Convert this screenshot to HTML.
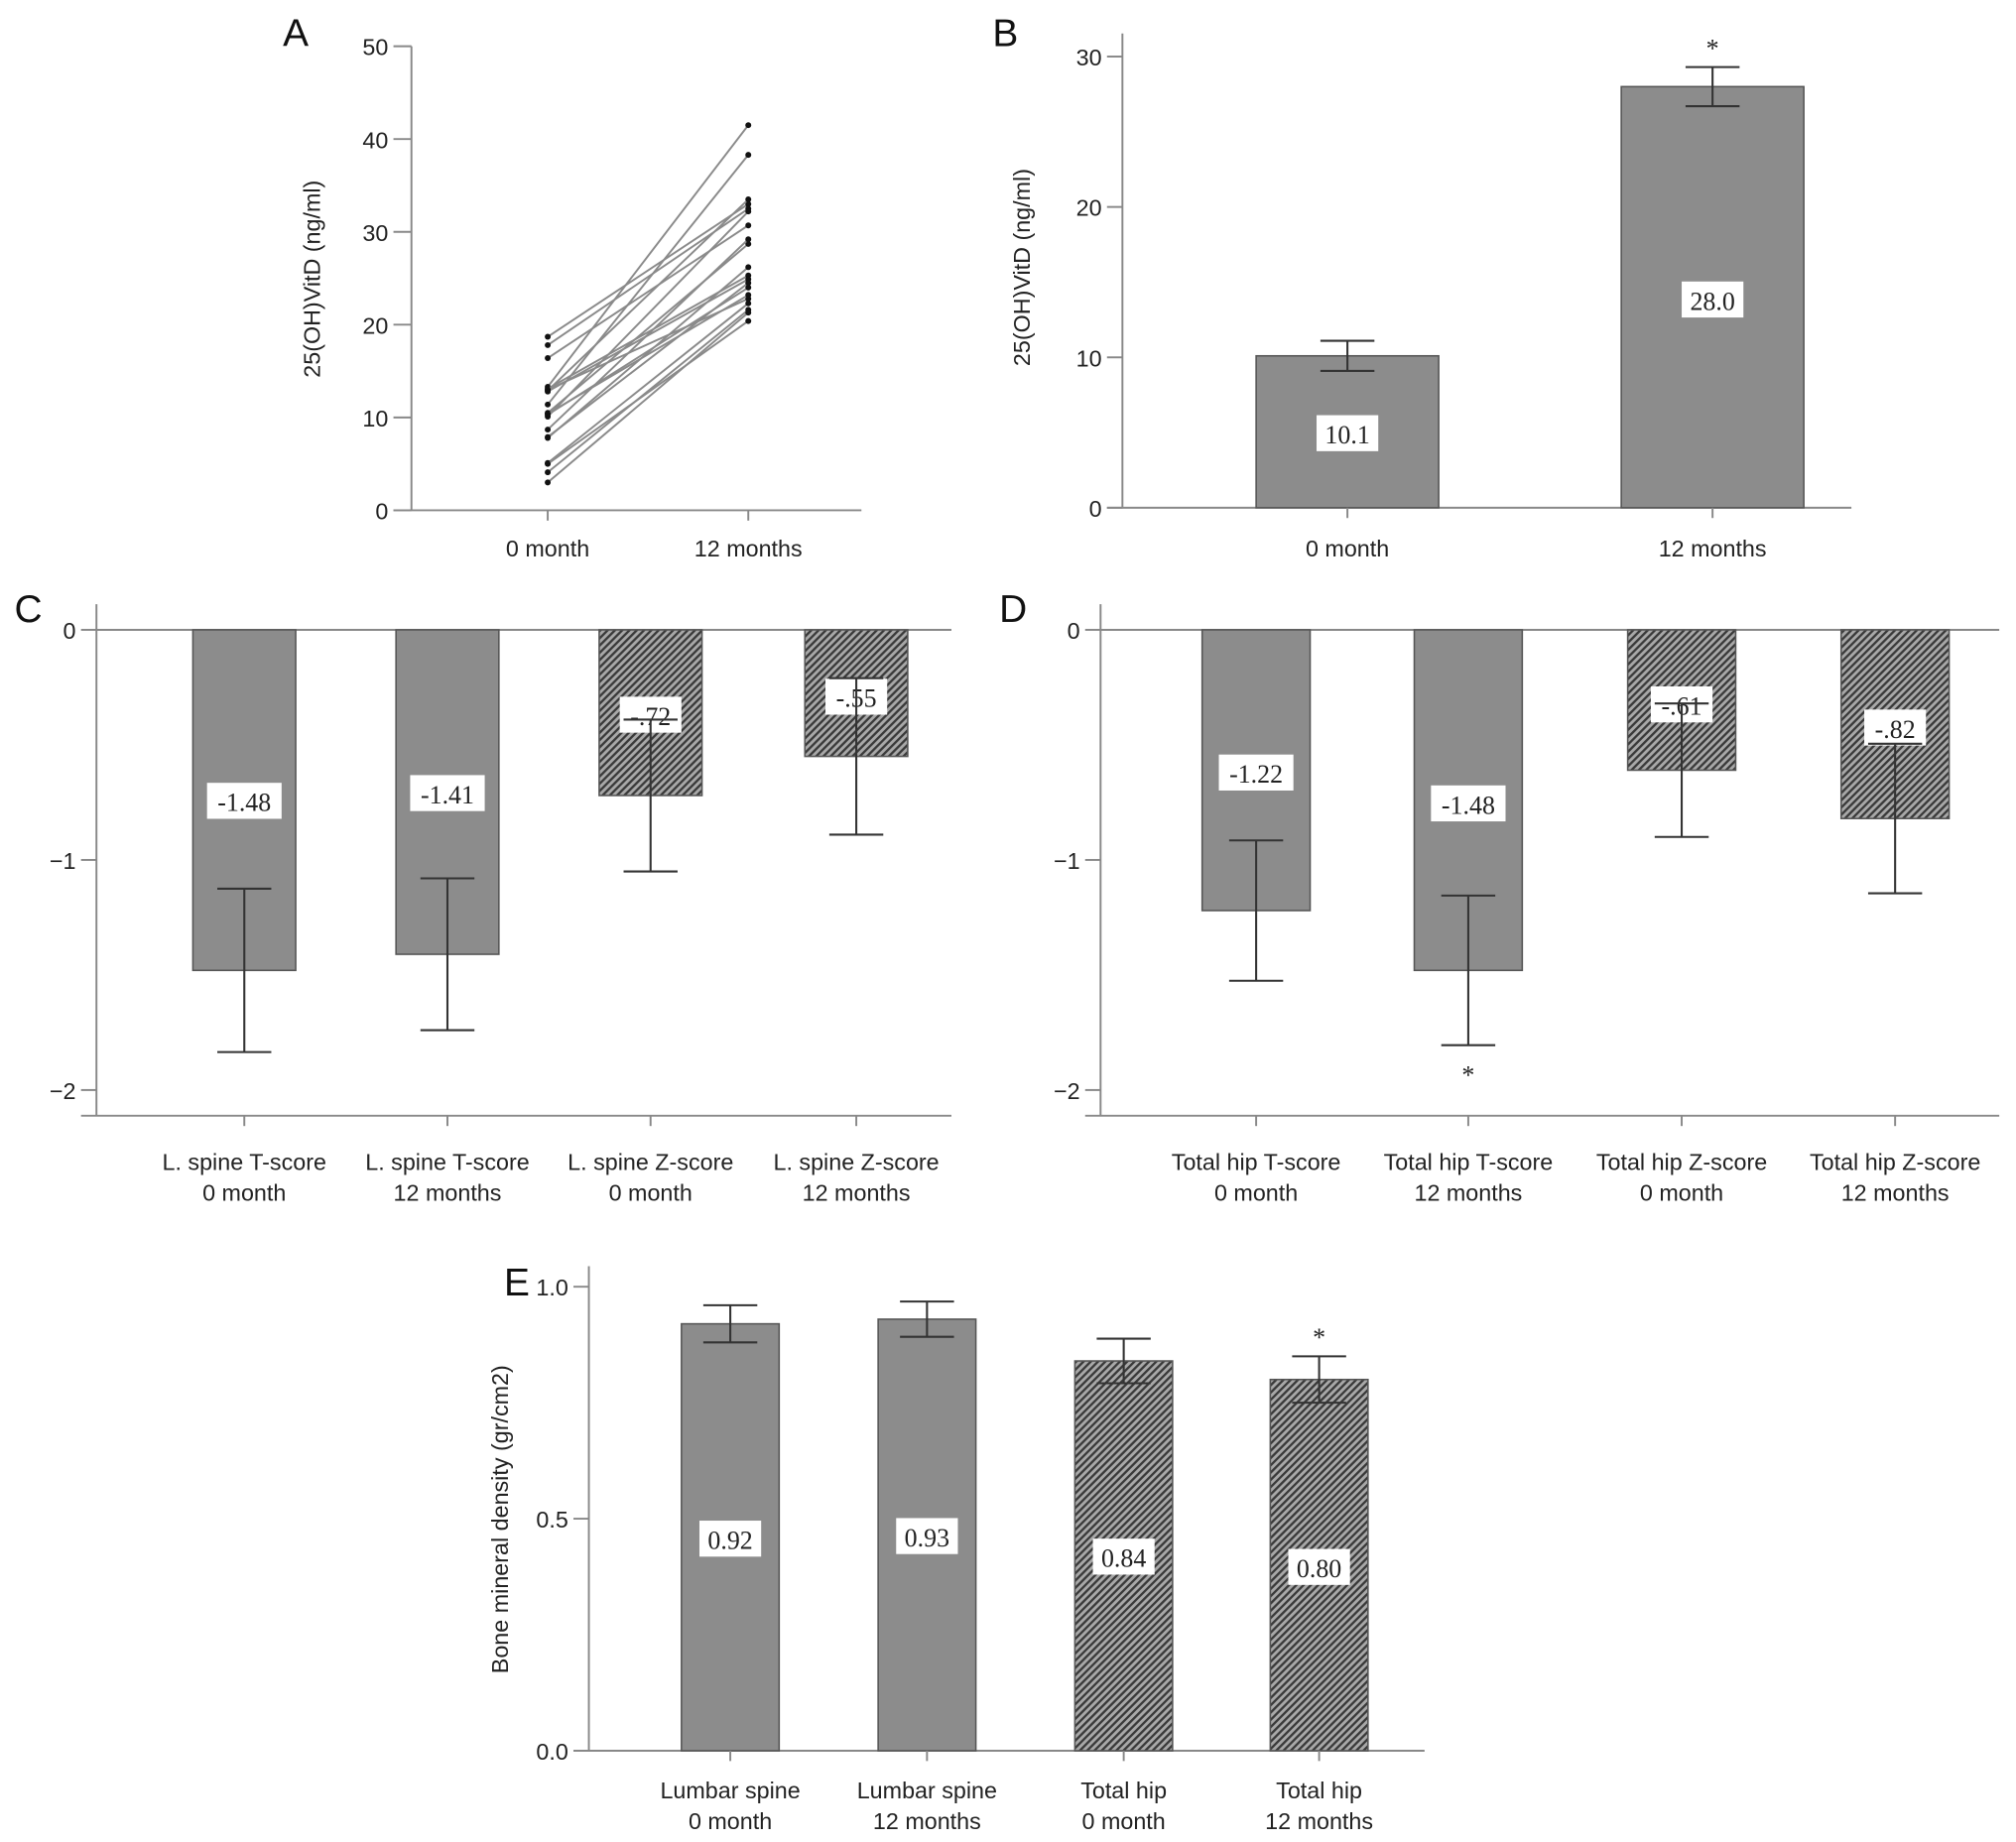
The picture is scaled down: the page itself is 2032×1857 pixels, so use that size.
<!DOCTYPE html>
<html><head><meta charset="utf-8"><style>
html,body{margin:0;padding:0;background:#fff}
svg{display:block}
.t{font-family:"Liberation Sans",sans-serif;font-size:18px;fill:#222}
.v{font-family:"Liberation Serif",serif;font-size:20px;fill:#222}
.p{font-family:"Liberation Sans",sans-serif;font-size:30px;fill:#111}
</style></head><body>
<svg id="fig" width="2032" height="1857" viewBox="0 0 1568 1433" xmlns="http://www.w3.org/2000/svg">
<defs>
<pattern id="hatch" patternUnits="userSpaceOnUse" width="4" height="4" patternTransform="rotate(45)">
<rect width="4" height="4" fill="#a8a8a8"/><rect width="1.8" height="4" fill="#3a3a3a"/>
</pattern>
</defs>
</svg>
<script>
// Panel A data
const aBase=[18.7,17.8,16.4,13.3,13.1,12.9,12.8,11.4,10.5,10.3,10.1,8.7,7.8,5.1,4.1,3.0,13.0,10.4,5.0,7.9];
const aFollow=[33.0,32.5,30.7,41.5,25.3,33.5,24.9,38.3,28.7,24.0,32.2,29.2,26.2,22.3,21.6,21.3,22.8,23.2,20.4,24.5];
const aTicks=[0,10,20,30,40,50];
// Panel B
const bCats=["0 month","12 months"];
const bVals=[10.1,28.0];
const bErr=[1.0,1.3];
const bTicks=[0,10,20,30];
// Panel C
const cCats=[["L. spine T-score","0 month"],["L. spine T-score","12 months"],["L. spine Z-score","0 month"],["L. spine Z-score","12 months"]];
const cVals=[-1.48,-1.41,-0.72,-0.55];
const cErr=[0.355,0.33,0.33,0.34];
const cLabels=["-1.48","-1.41","-.72","-.55"];
// Panel D
const dCats=[["Total hip T-score","0 month"],["Total hip T-score","12 months"],["Total hip Z-score","0 month"],["Total hip Z-score","12 months"]];
const dVals=[-1.22,-1.48,-0.61,-0.82];
const dErr=[0.305,0.325,0.29,0.325];
const dLabels=["-1.22","-1.48","-.61","-.82"];
const cdTicks=[0,-1,-2];
// Panel E
const eCats=[["Lumbar spine","0 month"],["Lumbar spine","12 months"],["Total hip","0 month"],["Total hip","12 months"]];
const eVals=[0.92,0.93,0.84,0.80];
const eErr=[0.04,0.038,0.048,0.05];
const eLabels=["0.92","0.93","0.84","0.80"];
const eTicks=["0.0","0.5","1.0"];

const svg=document.getElementById('fig');
const NS="http://www.w3.org/2000/svg";
function mk(tag,attrs,parent){const e=document.createElementNS(NS,tag);for(const k in attrs)e.setAttribute(k,attrs[k]);(parent||svg).appendChild(e);return e;}
function txt(x,y,s,cls,anchor,parent){const e=mk('text',{x:x,y:y,class:cls,'text-anchor':anchor||'middle'},parent);e.textContent=s;return e;}
const AX='#888';

// ---------- Panel A
(function(){
 const g=mk('g',{});
 
 
 const y=v=>397-v*7.22, x0=426, x1=582;
 const pl=txt(230,36,'A','p','middle',g);
 
 
 const ax=mk('line',{x1:320,y1:y(50),x2:320,y2:397,stroke:AX,'stroke-width':1.5},g);
 
 
 const xa=mk('line',{x1:306,y1:397,x2:670,y2:397,stroke:AX,'stroke-width':1.5},g);
 
 
 aTicks.forEach(t=>{mk('line',{x1:306,y1:y(t),x2:320,y2:y(t),stroke:AX,'stroke-width':1.5},g);
  const l=txt(302,y(t)+7,String(t),'t','end',g);
  
  });
 [x0,x1].forEach((xx,i)=>{mk('line',{x1:xx,y1:397,x2:xx,y2:405,stroke:AX,'stroke-width':1.5},g);
  const l=txt(xx,433,bCats[i],'t','middle',g);
  
  });
 const yl=txt(0,0,'25(OH)VitD (ng/ml)','t','middle',g);
 yl.setAttribute('transform','translate(249,217) rotate(-90)');
 
 
 aBase.forEach((b,i)=>{
  const ln=mk('line',{x1:x0,y1:y(b),x2:x1,y2:y(aFollow[i]),stroke:'#8a8a8a','stroke-width':1.5},g);
  
  
  const p1=mk('circle',{cx:x0,cy:y(b),r:2.3,fill:'#111'},g);
  
  
  const p2=mk('circle',{cx:x1,cy:y(aFollow[i]),r:2.3,fill:'#111'},g);
  
  
 });
})();

// generic bar panel
function barPanel(o){
 const g=mk('g',{});
 
 
 const pl=txt(o.plx,o.ply,o.letter,'p','middle',g);
 
 
 const y=o.y;
 const ya=mk('line',{x1:o.ax,y1:o.yTop,x2:o.ax,y2:o.yBot,stroke:AX,'stroke-width':1.5},g);
 
 
 const xa=mk('line',{x1:o.ax-12,y1:o.yBot,x2:o.xEnd,y2:o.yBot,stroke:AX,'stroke-width':1.5},g);
 
 
 if(o.zeroLine){const z=mk('line',{x1:o.ax,y1:y(0),x2:o.xEnd,y2:y(0),stroke:AX,'stroke-width':1.5},g);
  
  }
 o.ticks.forEach(t=>{const v=parseFloat(t);mk('line',{x1:o.ax-12,y1:y(v),x2:o.ax,y2:y(v),stroke:AX,'stroke-width':1.5},g);
  const l=txt(o.ax-16,y(v)+7,String(t).replace('-','\u2212'),'t','end',g);
  
  });
 if(o.ytitle){const yl=txt(0,0,o.ytitle,'t','middle',g);
  yl.setAttribute('transform','translate('+o.ytx+','+o.yty+') rotate(-90)');
  
  }
 o.vals.forEach((v,i)=>{
  const cx=o.cx[i], w=o.w;
  const top=Math.min(y(0),y(v)), h=Math.abs(y(v)-y(0));
  const r=mk('rect',{x:cx-w/2,y:top,width:w,height:h,fill:o.hatch[i]?'url(#hatch)':'#8c8c8c',stroke:'#555','stroke-width':1.2},g);
  
  
  mk('line',{x1:cx,y1:o.yBot,x2:cx,y2:o.yBot+8,stroke:AX,'stroke-width':1.5},g);
  const cat=Array.isArray(o.cats[i])?o.cats[i]:[o.cats[i]];
  cat.forEach((c,j)=>{const l=txt(cx,o.yBot+o.catDy+j*24,c,'t','middle',g);
   
   });
  const lbl=o.labels[i], ly=o.labY(i,v);
  const bw=lbl.length*10+8;
  const b=mk('rect',{x:cx-bw/2,y:ly-15,width:bw,height:28,fill:'#fff'},g);
  
  
  const vt=txt(cx,ly+7,lbl,'v','middle',g);
  
  
  const e=o.err[i], hi=v+e, lo=v-e;
  const eb=mk('path',{d:'M'+cx+','+y(hi)+'V'+y(lo)+'M'+(cx-21)+','+y(hi)+'H'+(cx+21)+'M'+(cx-21)+','+y(lo)+'H'+(cx+21),stroke:'#333','stroke-width':1.6,fill:'none'},g);
  
  
  if(o.stars&&o.stars[i]){const s=txt(cx,o.stars[i]>0?y(hi)-8:y(lo)+30,'*','v','middle',g);
   s.setAttribute('font-size','26');
   
   }
 });
}

// Panel B
barPanel({name:'panel-b',letter:'B',plx:782,ply:36,ax:873,yTop:26,yBot:395,xEnd:1440,
 y:v=>395-v*11.7,ticks:bTicks,vals:bVals,err:bErr,cats:bCats,labels:["10.1","28.0"],cx:[1048,1332],w:142,hatch:[0,0],
 catDy:38,labY:(i,v)=>i==0?338:234,ytitle:'25(OH)VitD (ng/ml)',ytx:801,yty:208,stars:[0,1]});
// Panel C
barPanel({name:'panel-c',letter:'C',plx:22,ply:484,ax:75,yTop:470,yBot:868,xEnd:740,zeroLine:1,
 y:v=>490-v*179,ticks:cdTicks,vals:cVals,err:cErr,cats:cCats,labels:cLabels,cx:[190,348,506,666],w:80,hatch:[0,0,1,1],
 catDy:42,labY:(i,v)=>[624,618,557,543][i]});
// Panel D
barPanel({name:'panel-d',letter:'D',plx:788,ply:484,ax:856,yTop:470,yBot:868,xEnd:1555,zeroLine:1,
 y:v=>490-v*179,ticks:cdTicks,vals:dVals,err:dErr,cats:dCats,labels:dLabels,cx:[977,1142,1308,1474],w:84,hatch:[0,0,1,1],
 catDy:42,labY:(i,v)=>[602,626,549,567][i],stars:[0,-1,0,0]});
// Panel E
barPanel({name:'panel-e',letter:'E',plx:402,ply:1008,ax:458,yTop:985,yBot:1362,xEnd:1108,
 y:v=>1362-v*361,ticks:eTicks,vals:eVals,err:eErr,cats:eCats,labels:eLabels,cx:[568,721,874,1026],w:76,hatch:[0,0,1,1],
 catDy:37,labY:(i,v)=>[1198,1196,1212,1220][i],ytitle:'Bone mineral density (gr/cm2)',ytx:395,yty:1182,stars:[0,0,0,1]});
</script>
</body></html>
